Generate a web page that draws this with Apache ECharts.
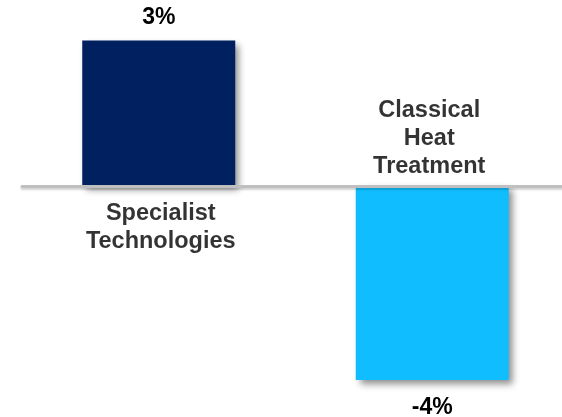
<!DOCTYPE html>
<html>
<head>
<meta charset="utf-8">
<script src="https://cdn.jsdelivr.net/npm/echarts@6/dist/echarts.min.js"></script>
<style>
  html, body { margin: 0; padding: 0; background: #fff; }
  #chart { width: 562px; height: 417px; }
</style>
</head>
<body>
<div id="chart"></div>
<script>
// Segment growth, year on year (%)
const categories = ['Specialist\nTechnologies', 'Classical\nHeat\nTreatment'];
const growth = [3, -4];
const barColors = ['#002060', '#10BEFF'];

const FONT = '"Liberation Sans", Arial, sans-serif';

const chart = echarts.init(document.getElementById('chart'), null, { renderer: 'canvas' });

chart.setOption({
  animation: false,
  // the baseline runs off the right edge, so the grid is wider than the canvas
  grid: { left: 22, width: 547, top: 40.5, bottom: 37, outerBoundsMode: 'none' },
  xAxis: {
    type: 'category',
    data: categories,
    z: 5,
    axisLine: {
      onZero: true,
      lineStyle: {
        color: '#BFBFBF', width: 3,
        shadowColor: 'rgba(0,0,0,0.18)', shadowBlur: 2, shadowOffsetY: 2
      }
    },
    axisTick: { show: false },
    axisLabel: { show: false },
    splitLine: { show: false }
  },
  yAxis: {
    type: 'value',
    min: -4,
    max: 3,
    show: false
  },
  series: [
    {
      type: 'bar',
      barWidth: 153,
      data: growth.map((v, i) => ({
        value: v,
        itemStyle: { color: barColors[i] },
        label: v >= 0
          ? { position: 'top', distance: 11 }
          : { position: 'bottom', distance: 16 }
      })),
      itemStyle: {
        shadowColor: 'rgba(0,0,0,0.45)',
        shadowBlur: 7,
        shadowOffsetX: 4,
        shadowOffsetY: 4
      },
      label: {
        show: true,
        formatter: p => p.value + '%',
        color: '#000',
        fontFamily: FONT,
        fontWeight: 'bold',
        fontSize: 23
      }
    },
    {
      // category names sit on the opposite side of the baseline from each bar
      type: 'scatter',
      symbolSize: 0,
      itemStyle: { color: 'transparent' },
      data: categories.map((c, i) => ({
        value: [i, 0],
        label: growth[i] >= 0
          ? { position: 'bottom', distance: 14, offset: [2, 0] }
          : { position: 'top', distance: 5, offset: [-3, 0] }
      })),
      label: {
        show: true,
        formatter: p => categories[p.dataIndex],
        color: '#000',
        fontFamily: FONT,
        fontWeight: 'bold',
        fontSize: 23.5,
        lineHeight: 28,
        align: 'center'
      },
      z: 6
    }
  ]
});
</script>
</body>
</html>
